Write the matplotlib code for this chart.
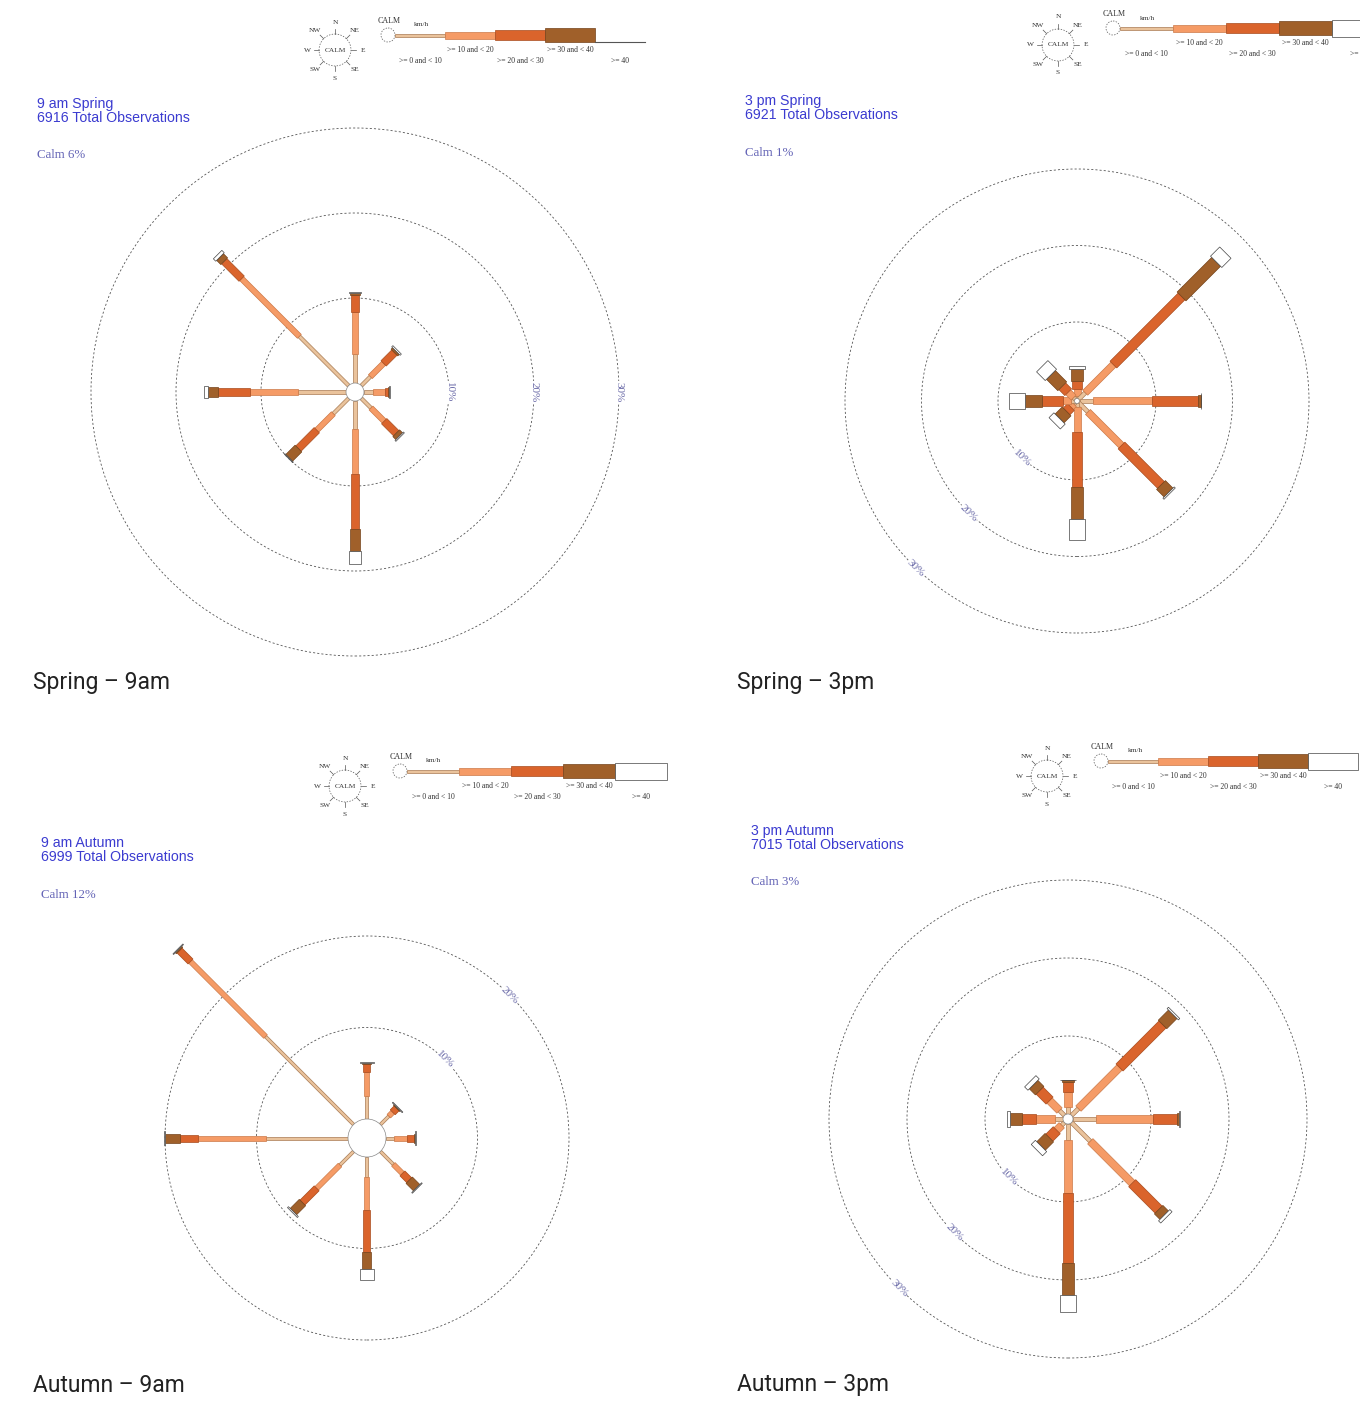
import numpy as np
import matplotlib
matplotlib.use('Agg')
import matplotlib.pyplot as plt
from matplotlib.patches import Circle, Rectangle
from matplotlib.transforms import Affine2D

# --- data ---
directions = ['N', 'NE', 'E', 'SE', 'S', 'SW', 'W', 'NW']
speed_classes = ['>= 0 and < 10', '>= 10 and < 20', '>= 20 and < 30', '>= 30 and < 40', '>= 40']

# % of observations per direction (rows follow directions, cols follow speed_classes)
spring_9am = [
    [3.4, 4.9, 2.05, 0.2, 0.1],
    [1.5, 2.2, 1.8, 0.25, 0.2],
    [1.1, 1.4, 0.35, 0.1, 0.1],
    [1.6, 2.2, 2.0, 0.5, 0.15],
    [3.25, 5.3, 6.45, 2.6, 1.6],
    [2.55, 2.75, 3.05, 1.55, 0.1],
    [5.65, 5.6, 3.8, 1.2, 0.45],
    [8.2, 9.6, 2.9, 0.7, 0.4],
]
spring_3pm = [
    [0.3, 1.0, 1.0, 1.5, 0.5],
    [1.2, 5.2, 12.6, 6.4, 1.7],
    [1.8, 7.7, 6.0, 0.35, 0.05],
    [1.7, 6.2, 7.3, 1.4, 0.2],
    [0.4, 3.35, 7.15, 4.2, 2.8],
    [0.25, 0.55, 0.8, 1.3, 0.9],
    [0.4, 1.15, 2.65, 2.3, 2.0],
    [0.3, 1.0, 1.1, 2.1, 1.6],
]
autumn_9am = [
    [2.55, 2.55, 0.9, 0.15, 0.05],
    [1.3, 0.6, 0.6, 0.1, 0.1],
    [0.9, 1.4, 0.75, 0.15, 0.05],
    [2.0, 1.4, 1.05, 1.15, 0.1],
    [2.2, 3.6, 4.55, 1.85, 1.25],
    [2.1, 3.6, 2.2, 1.4, 0.15],
    [8.95, 7.45, 2.0, 1.6, 0.1],
    [13.6, 11.6, 1.7, 0.15, 0.1],
]
autumn_3pm = [
    [0.95, 1.9, 1.3, 0.15, 0.05],
    [1.25, 7.45, 7.8, 1.85, 0.25],
    [3.0, 7.3, 3.0, 0.3, 0.1],
    [3.4, 7.6, 4.8, 1.0, 0.4],
    [2.05, 6.85, 8.95, 4.05, 2.2],
    [0.5, 0.9, 1.35, 1.5, 0.75],
    [1.0, 2.4, 1.9, 1.5, 0.4],
    [0.9, 1.8, 1.8, 1.1, 0.6],
]
rose_data = [spring_9am, spring_3pm, autumn_9am, autumn_3pm]
panel_titles = ['9 am Spring', '3 pm Spring', '9 am Autumn', '3 pm Autumn']
total_obs = [6916, 6921, 6999, 7015]
calm_pct = [6, 1, 12, 3]
ring_pcts = [[10, 20, 30], [10, 20, 30], [10, 20], [10, 20, 30]]
captions = ['Spring \u2013 9am', 'Spring \u2013 3pm', 'Autumn \u2013 9am', 'Autumn \u2013 3pm']

# --- styling / layout (pixels) ---
W, H = 1360, 1402
fills = ['#eac39c', '#f59b66', '#da642c', '#a0602a', 'white']
edges = ['#a87a52', '#cc7a48', '#a84c1e', '#74421a', '#444444']
leg_heights = [3, 7, 10.5, 13.5, 17]

layout = [
    dict(center=(355, 392), ppp=8.5, calm_px=9, widths=[3.5, 5.5, 7.5, 9.5, 12],
         lab_ang=0, lab_rot=-90, title=(37, 104), calm_y=155, caption=(33, 683),
         comp=(335, 50), calm_c=(388, 35), seg=50, white_line=True),
    dict(center=(1077, 401), ppp=7.65, calm_px=2.5, widths=[4, 7, 9.5, 12.5, 16],
         lab_ang=226, lab_rot=-44, title=(745, 101), calm_y=153, caption=(737, 683),
         comp=(1058, 45), calm_c=(1113, 28), seg=53, white_line=False),
    dict(center=(367, 1138), ppp=9.15, calm_px=19, widths=[3, 5, 7, 9, 14],
         lab_ang=45, lab_rot=-45, title=(41, 843), calm_y=895, caption=(33, 1385),
         comp=(345, 786), calm_c=(400, 771), seg=52, white_line=False),
    dict(center=(1068, 1119), ppp=7.8, calm_px=5, widths=[4, 7.5, 10, 12, 16],
         lab_ang=225, lab_rot=-45, title=(751, 831), calm_y=882, caption=(737, 1385),
         comp=(1047, 776), calm_c=(1101, 761), seg=50, white_line=False),
]

SERIF = 'Liberation Serif'
SANS = 'Liberation Sans'


def draw_rose(fig, pct, rings, lay):
    cx, cy = lay['center']
    half = 285
    ax = fig.add_axes([(cx - half) / W, (H - cy - half) / H, 2 * half / W, 2 * half / H])
    ax.patch.set_alpha(0)
    ppp = lay['ppp']
    off = lay['calm_px'] / ppp

    for ring in rings:
        ax.add_patch(Circle((0, 0), off + ring, fill=False, ls=(0, (2.5, 2.5)),
                            lw=0.6, ec='#555555', zorder=1))
        a = np.deg2rad(lay['lab_ang'])
        ax.text((off + ring) * np.cos(a), (off + ring) * np.sin(a), f'{ring}%',
                rotation=lay['lab_rot'], rotation_mode='anchor', ha='center', va='center',
                fontsize=8, family=SERIF, color='#6a6aa8', zorder=2,
                bbox=dict(fc='white', ec='none', pad=0.3))

    widths = np.array(lay['widths']) / ppp
    for i, row in enumerate(pct):
        ang = 90 - 45 * i
        tr = Affine2D().rotate_deg(ang) + ax.transData
        starts = off + np.concatenate([[0], np.cumsum(row)[:-1]])
        ax.barh(np.zeros(len(row)), row, left=starts, height=widths, color=fills,
                edgecolor=edges, linewidth=0.5, transform=tr, zorder=3)

    ax.add_patch(Circle((0, 0), off, fc='white', ec='#888888', lw=0.5, zorder=4))
    lim = half / ppp
    ax.set_xlim(-lim, lim)
    ax.set_ylim(-lim, lim)
    ax.set_autoscale_on(False)
    ax.axis('off')


def draw_legend(ax, lay):
    cx, cy = lay['comp']
    ax.add_patch(Circle((cx, cy), 16, fill=False, ls=(0, (2, 2)), lw=0.5, ec='#555555'))
    ax.text(cx, cy, 'CALM', ha='center', va='center', fontsize=5.3, family=SERIF, color='#333')
    for i, d in enumerate(directions):
        a = np.deg2rad(90 - 45 * i)
        ca, sa = np.cos(a), np.sin(a)
        ax.plot([cx + 16 * ca, cx + 21 * ca], [cy - 16 * sa, cy - 21 * sa], color='#555', lw=0.5)
        ax.text(cx + 28 * ca, cy - 28 * sa, d, ha='center', va='center',
                fontsize=5.3, family=SERIF, color='#333')

    xc, yb = lay['calm_c']
    ax.add_patch(Circle((xc, yb), 7, fill=False, ls=(0, (2, 2)), lw=0.5, ec='#555555'))
    ax.text(xc + 1, yb - 14, 'CALM', ha='center', va='center', fontsize=5.8, family=SERIF, color='#333')
    x0 = xc + 7
    seg = lay['seg']
    ax.text(x0 + 27, yb - 10, 'km/h', ha='center', va='center', fontsize=5.3, family=SERIF, color='#333')
    for k in range(5):
        h = leg_heights[k]
        if k == 4 and lay['white_line']:
            ax.plot([x0 + 4 * seg, x0 + 5 * seg], [yb + 7, yb + 7], color='#555', lw=0.8)
        else:
            ax.add_patch(Rectangle((x0 + k * seg, yb - h / 2), seg, h, fc=fills[k],
                                   ec=edges[k], lw=0.5))
        ly = yb + 15 if k % 2 == 1 else yb + 26
        ax.text(x0 + (k + 0.5) * seg, ly, speed_classes[k], ha='center', va='center',
                fontsize=5.5, family=SERIF, color='#333')


fig = plt.figure(figsize=(W / 100, H / 100), dpi=100)
ax_bg = fig.add_axes([0, 0, 1, 1])
ax_bg.set_xlim(0, W)
ax_bg.set_ylim(H, 0)
ax_bg.axis('off')

for p, lay in enumerate(layout):
    draw_rose(fig, rose_data[p], ring_pcts[p], lay)
    draw_legend(ax_bg, lay)
    tx, ty = lay['title']
    ax_bg.text(tx, ty, panel_titles[p], ha='left', va='center', fontsize=10.2,
               family=SANS, color='#3b3bd0')
    ax_bg.text(tx, ty + 14, f'{total_obs[p]} Total Observations', ha='left', va='center',
               fontsize=10.2, family=SANS, color='#3b3bd0')
    ax_bg.text(tx, lay['calm_y'], f'Calm {calm_pct[p]}%', ha='left', va='center',
               fontsize=9.3, family=SERIF, color='#6262b5')
    ax_bg.text(lay['caption'][0], lay['caption'][1], captions[p], ha='left', va='center',
               fontsize=16.5, family='Roboto', color='#222222')

fig.savefig('out.png', dpi=100)
